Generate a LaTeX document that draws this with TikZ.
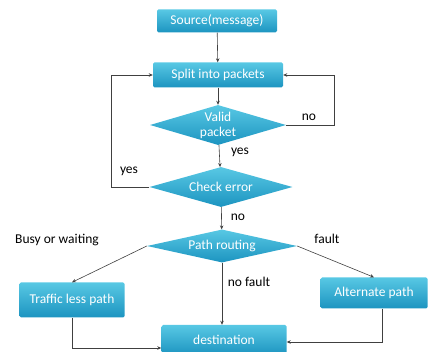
\documentclass[tikz,border=0pt]{standalone}
\usepackage{fontspec}
\setmainfont{Carlito}
\usetikzlibrary{shapes.geometric,arrows.meta}
\definecolor{topc}{HTML}{58C8E4}
\definecolor{botc}{HTML}{1C94C0}
\definecolor{linec}{HTML}{404040}
\tikzset{
  procbox/.style={rectangle, rounded corners=1.5pt, top color=topc, bottom color=botc, draw=none, text=white, font=\fontsize{13.5}{14}\selectfont, inner sep=0pt},
  decbox/.style={diamond, top color=topc, bottom color=botc, draw=none, inner sep=0pt},
  dectext/.style={text=white, font=\fontsize{13.5}{15}\selectfont, align=center, inner sep=0pt},
  conn/.style={draw=linec, line width=0.6pt, -{Stealth[length=4pt,width=3.5pt]}},
  lbl/.style={text=black, font=\fontsize{13.5}{14}\selectfont, inner sep=0pt}
}
\begin{document}
\begin{tikzpicture}[x=1pt,y=-1pt]
\useasboundingbox (0,0) rectangle (431,352);
\node[procbox, minimum width=120pt, minimum height=23pt] (src) at (217,21) {Source(message)};
\node[procbox, minimum width=130pt, minimum height=25pt] (split) at (218,75) {Split into packets};
\node[decbox, minimum width=136pt, minimum height=40pt, label={[dectext]center:Valid\\packet}] (valid) at (218,125) {};
\node[decbox, minimum width=143pt, minimum height=40pt, label={[dectext]center:Check error}] (check) at (221,187) {};
\node[decbox, minimum width=150pt, minimum height=33pt, label={[dectext]center:Path routing}] (route) at (222,246) {};
\node[procbox, minimum width=105pt, minimum height=35pt] (traffic) at (72,300) {Traffic less path};
\node[procbox, minimum width=107pt, minimum height=31pt] (alt) at (374,293) {Alternate path};
\node[procbox, minimum width=125pt, minimum height=30pt] (dest) at (224,340) {destination};

\coordinate (vr) at (334,125);
\coordinate (vrt) at (334,75);
\coordinate (cl) at (111,187);
\coordinate (clt) at (111,75);
\coordinate (tb) at (72,348);
\coordinate (ab) at (382,342);

\draw[conn] (src) -- (split);
\draw[conn] (split) -- (valid);
\draw[conn] (valid) -- (check);
\draw[conn] (check) -- (route);
\draw[conn] (valid.east) -- (vr) -- (vrt) -- (split.east);
\draw[conn] (check.west) -- (cl) -- (clt) -- (split.west);
\draw[conn] (route.west) -- (traffic.north);
\draw[conn] (route.east) -- (alt.north);
\draw[conn] (route.south) -- (dest.north -| route.south);
\draw[conn] (traffic.south) -- (tb) -- (tb -| dest.west);
\draw[conn] (ab |- alt.south) -- (ab) -- (ab -| dest.east);

\node[lbl] (lno1) at (309,117) {no};
\node[lbl] (lyes1) at (240,152) {yes};
\node[lbl] (lyes2) at (129,171) {yes};
\node[lbl] (lno2) at (238,217) {no};
\node[lbl] (lbusy) at (57,240) {Busy or waiting};
\node[lbl] (lfault) at (327,239) {fault};
\node[lbl] (lnof) at (249,282) {no fault};
\end{tikzpicture}
\end{document}
